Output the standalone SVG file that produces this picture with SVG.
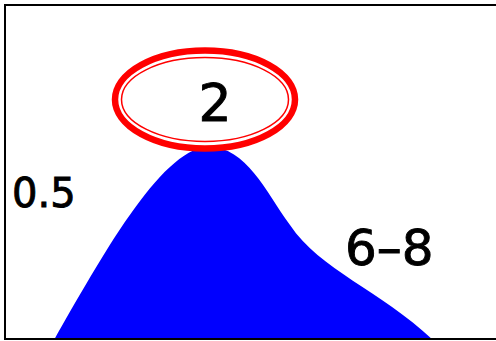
<svg xmlns="http://www.w3.org/2000/svg" width="496" height="341" viewBox="0 0 496 341">
<style>
.t{font-family:"DejaVu Sans",sans-serif;fill:#000;stroke:#000;stroke-width:0.9}
</style>
<rect x="0" y="0" width="496" height="341" fill="#fff"/>
<g id="mountain">
<path d="M54,340 C100,260 160,150 207,147 C245,145 265,190 290,225 C320,270 380,290 433,340 Z" fill="#00f"/>
</g>
<g id="peak-label">
<ellipse cx="205" cy="99.5" rx="90" ry="49" fill="#fff" stroke="#f00" stroke-width="6.5"/>
<ellipse cx="205" cy="99.5" rx="83.5" ry="42" fill="none" stroke="#f00" stroke-width="1.5"/>
<text class="t" x="215" y="121" font-size="52" text-anchor="middle">2</text>
</g>
<g id="left-label"><text class="t" x="12" y="207" font-size="40">0.5</text></g>
<g id="right-label"><text class="t" x="345" y="265" font-size="50">6–8</text></g>
<rect x="5" y="5" width="500" height="334" fill="none" stroke="#000" stroke-width="2"/>
</svg>
